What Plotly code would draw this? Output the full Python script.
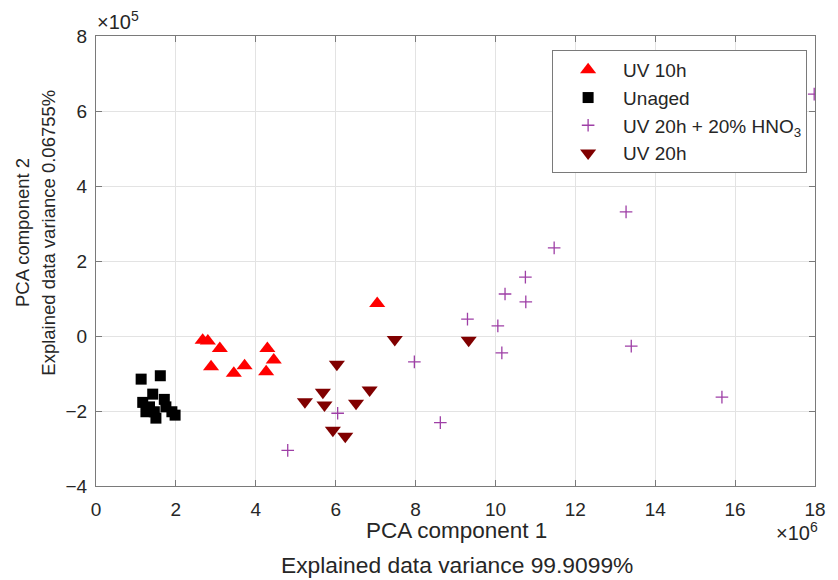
import plotly.graph_objects as go

# PCA scores: component 1 in units of 1e6, component 2 in units of 1e5
uv10_pc1 = [2.67, 2.80, 3.10, 2.88, 3.45, 3.72, 4.29, 4.45, 4.26, 7.04]
uv10_pc2 = [-0.11, -0.13, -0.33, -0.82, -0.99, -0.79, -0.33, -0.64, -0.95, 0.87]

unaged_pc1 = [1.13, 1.61, 1.42, 1.17, 1.71, 1.25, 1.46, 1.75, 1.50, 1.90, 1.98, 1.34]
unaged_pc2 = [-1.15, -1.06, -1.55, -1.77, -1.69, -2.02, -2.02, -1.89, -2.19, -2.02, -2.11, -1.89]

hno3_pc1 = [17.98, 13.27, 11.47, 10.75, 10.24, 10.76, 9.30, 10.06, 10.16, 13.40, 7.97, 8.62, 15.67, 6.05, 4.80]
hno3_pc2 = [6.45, 3.31, 2.35, 1.57, 1.12, 0.91, 0.45, 0.27, -0.45, -0.27, -0.69, -2.31, -1.63, -2.06, -3.05]

uv20_pc1 = [7.48, 9.33, 6.03, 5.68, 5.23, 5.72, 6.51, 6.85, 5.93, 6.24]
uv20_pc2 = [-0.09, -0.11, -0.75, -1.50, -1.75, -1.84, -1.79, -1.44, -2.51, -2.67]

x_ticks = [0, 2, 4, 6, 8, 10, 12, 14, 16, 18]
y_ticks = [-4, -2, 0, 2, 4, 6, 8]

FONT = "Liberation Sans, Arial, sans-serif"
TXT = "#262626"

fig = go.Figure()
fig.add_trace(go.Scatter(x=uv10_pc1, y=uv10_pc2, mode="markers", name="UV 10h",
                         marker=dict(symbol="triangle-up", size=14, color="#ff0000")))
fig.add_trace(go.Scatter(x=unaged_pc1, y=unaged_pc2, mode="markers", name="Unaged",
                         marker=dict(symbol="square", size=11, color="#000000")))
fig.add_trace(go.Scatter(x=hno3_pc1, y=hno3_pc2, mode="markers",
                         name="UV 20h + 20% HNO<sub>3</sub>",
                         marker=dict(symbol="cross-thin-open", size=9, color="#9e3fa6",
                                     line=dict(width=1.3, color="#9e3fa6"))))
fig.add_trace(go.Scatter(x=uv20_pc1, y=uv20_pc2, mode="markers", name="UV 20h",
                         marker=dict(symbol="triangle-down", size=14, color="#800000")))

L, R, T, B = 96, 13, 36, 94
W, H = 838, 580
pw, ph = W - L - R, H - T - B

def px(x):
    return (x - L) / pw

def py(y):
    return (H - B - y) / ph

axis_common = dict(showline=True, linecolor="#7a7a7a", linewidth=1, mirror="ticks",
                   ticks="inside", ticklen=6, tickcolor="#7a7a7a",
                   showgrid=True, gridcolor="#e3e3e3", gridwidth=1, zeroline=False,
                   tickfont=dict(family=FONT, size=19, color=TXT))

fig.update_layout(
    width=W, height=H,
    margin=dict(l=L, r=R, t=T, b=B),
    paper_bgcolor="white", plot_bgcolor="white",
    font=dict(family=FONT, color=TXT),
    xaxis=dict(range=[0, 18], tickvals=x_ticks, ticklabelstandoff=6, **axis_common),
    yaxis=dict(range=[-4, 8], tickvals=y_ticks, ticklabelstandoff=4, **axis_common),
    legend=dict(x=px(817), y=py(50), xanchor="right", yanchor="top",
                bgcolor="white", bordercolor="#7a7a7a", borderwidth=1, itemwidth=60,
                font=dict(family=FONT, size=19, color=TXT), tracegroupgap=0),
    showlegend=True,
)

fig.add_annotation(xref="paper", yref="paper", x=px(462), y=py(530), text="PCA component 1",
                   showarrow=False, font=dict(family=FONT, size=22.5, color=TXT),
                   xanchor="center", yanchor="middle")
fig.add_annotation(xref="paper", yref="paper", x=px(462), y=py(565),
                   text="Explained data variance 99.9099%",
                   showarrow=False, font=dict(family=FONT, size=22.8, color=TXT),
                   xanchor="center", yanchor="middle")
fig.add_annotation(xref="paper", yref="paper", x=px(21), y=py(233), text="PCA component 2",
                   showarrow=False, textangle=-90, font=dict(family=FONT, size=18.5, color=TXT),
                   xanchor="center", yanchor="middle")
fig.add_annotation(xref="paper", yref="paper", x=px(47), y=py(233),
                   text="Explained data variance 0.06755%",
                   showarrow=False, textangle=-90, font=dict(family=FONT, size=18.5, color=TXT),
                   xanchor="center", yanchor="middle")
fig.add_annotation(xref="paper", yref="paper", x=px(95), y=py(21), text="×10<sup>5</sup>",
                   showarrow=False, font=dict(family=FONT, size=20, color=TXT),
                   xanchor="left", yanchor="middle")
fig.add_annotation(xref="paper", yref="paper", x=px(830), y=py(531), text="×10<sup>6</sup>",
                   showarrow=False, font=dict(family=FONT, size=20, color=TXT),
                   xanchor="right", yanchor="middle")

fig.write_html("out.html")
